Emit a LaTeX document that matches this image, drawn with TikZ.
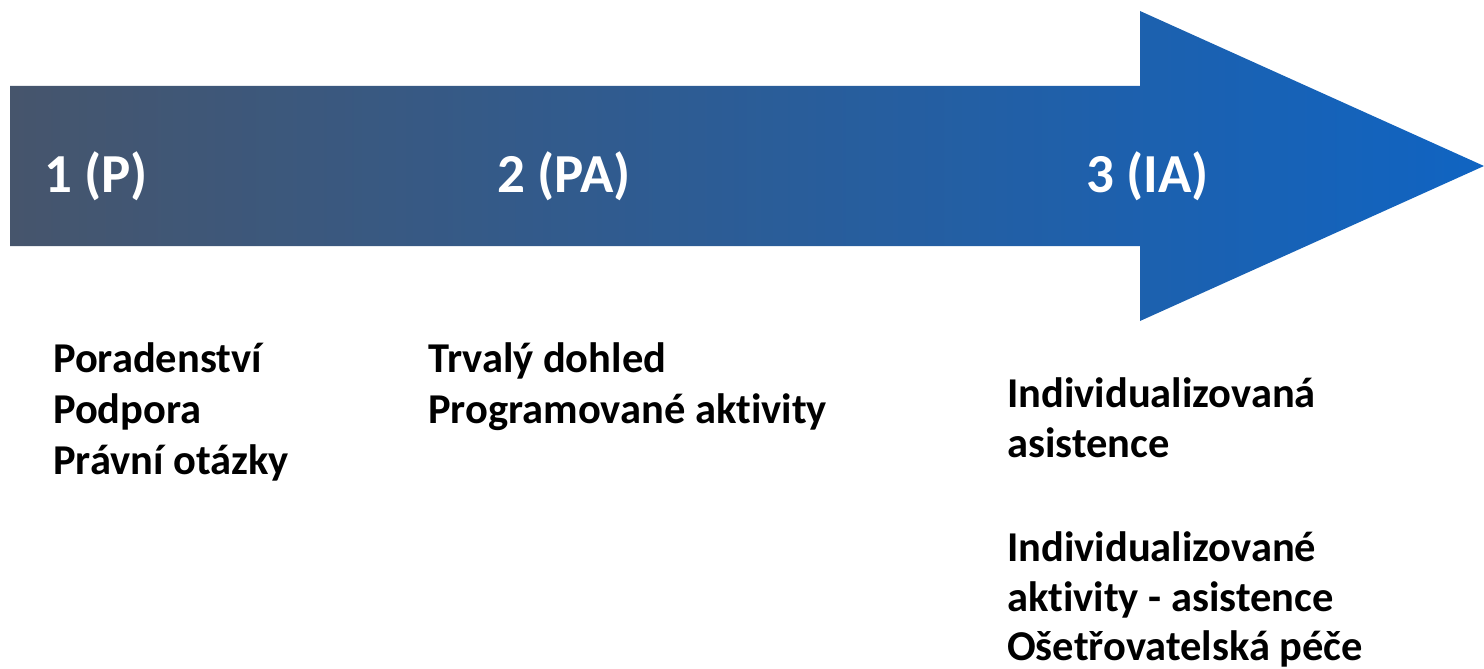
\documentclass[tikz,border=0pt]{standalone}
\usepackage{fontspec}
\setmainfont{Carlito}[Ligatures=NoCommon]
\definecolor{arrleft}{RGB}{70,85,108}
\definecolor{arrright}{RGB}{16,100,194}
\begin{document}
\begin{tikzpicture}[x=1pt,y=-1pt,
  stage/.style={anchor=base west,inner sep=0pt,text=white,font=\fontsize{55}{62}\selectfont\bfseries},
  item/.style={anchor=base west,inner sep=0pt,text=black,font=\fontsize{42.5}{51}\selectfont\bfseries}]
\useasboundingbox (0,0) rectangle (1484,669);
\shade[left color=arrleft,right color=arrright]
  (10,86) -- (1140,86) -- (1140,11) -- (1484,166) -- (1140,321) -- (1140,246) -- (10,246) -- cycle;
\node[stage] (s1) at (44,192) {1 (P)};
\node[stage] (s2) at (497,192) {2 (PA)};
\node[stage] (s3) at (1086,192) {3 (IA)};
\node[item] (a1) at (53,372) {Poradenství};
\node[item] (a2) at (53,423) {Podpora};
\node[item] (a3) at (53,474) {Právní otázky};
\node[item] (b1) at (428,372) {Trvalý dohled};
\node[item] (b2) at (428,423) {Programované aktivity};
\node[item] (c1) at (1007,407) {Individualizovaná};
\node[item] (c2) at (1007,457) {asistence};
\node[item] (c3) at (1007,561) {Individualizované};
\node[item] (c4) at (1007,611) {aktivity - asistence};
\node[item] (c5) at (1007,660) {Ošetřovatelská péče};
\end{tikzpicture}
\end{document}
